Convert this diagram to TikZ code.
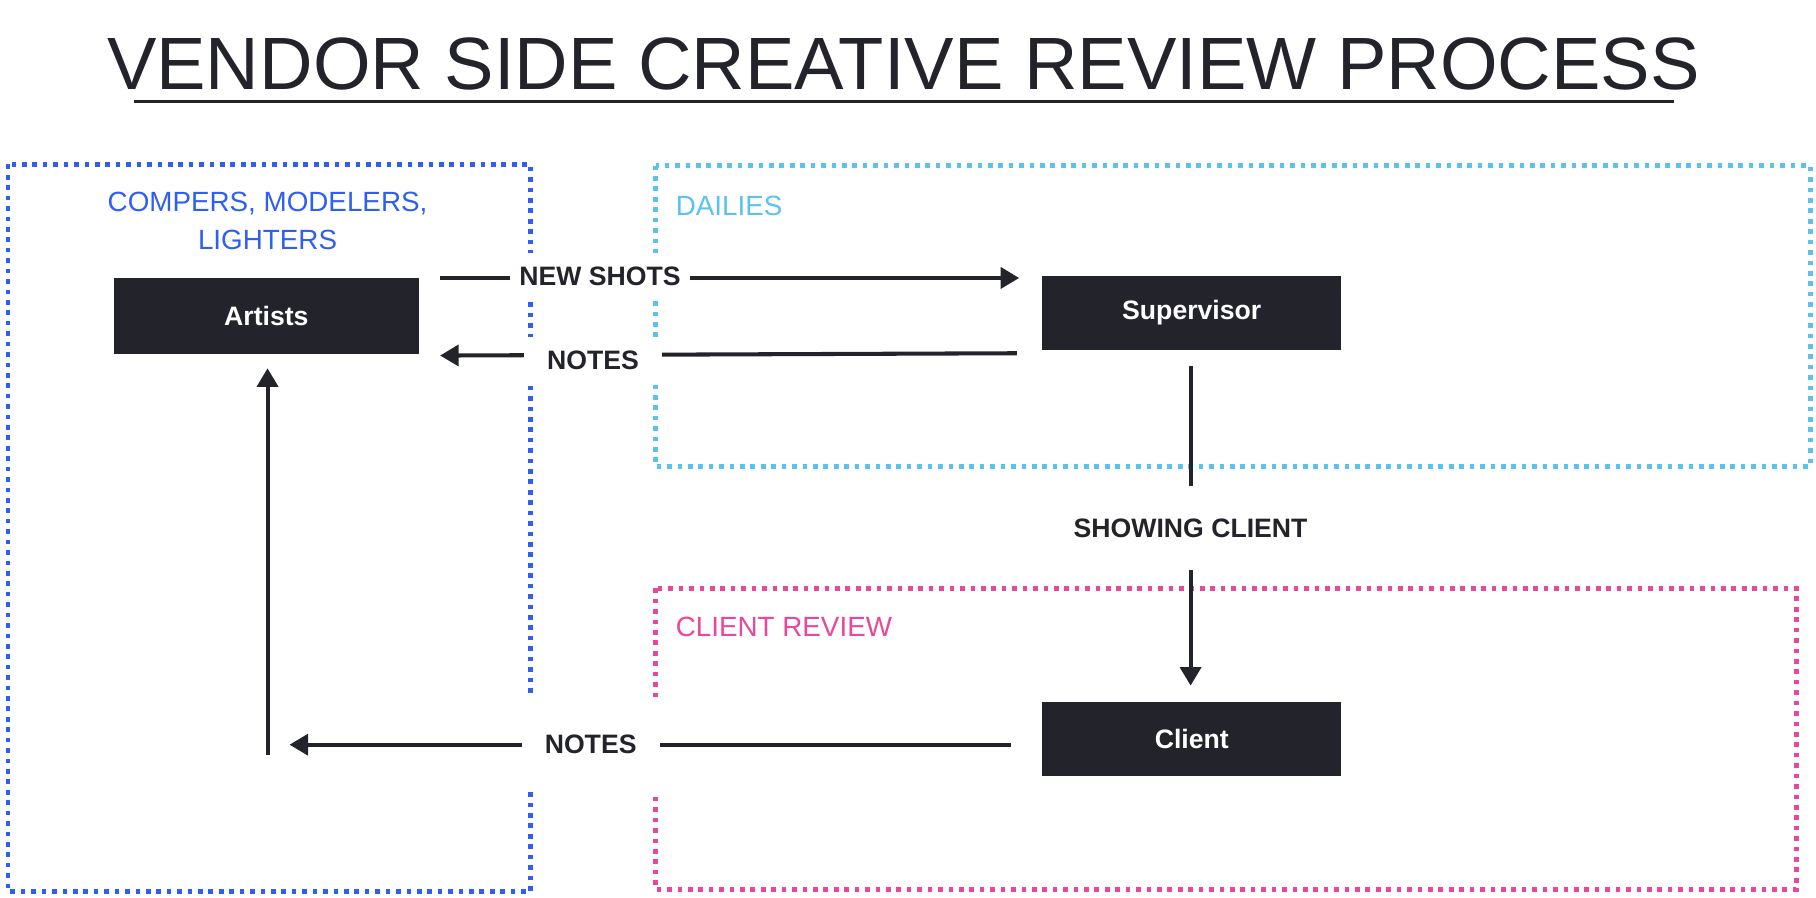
\documentclass[tikz,border=0pt]{standalone}
\usepackage{fontspec}
\setmainfont{Liberation Sans}
\usetikzlibrary{arrows.meta}
\definecolor{dk}{HTML}{23232B}
\definecolor{bl}{HTML}{2F5EF2}
\definecolor{cy}{HTML}{5BC2EE}
\definecolor{pk}{HTML}{E9489A}
\begin{document}
\begin{tikzpicture}[x=1pt,y=-1pt,
  grp/.style={line width=4pt,dash pattern=on 4pt off 5pt},
  blk/.style={fill=dk,text=white,font=\fontsize{23}{26}\selectfont\bfseries,inner sep=0},
  lab/.style={fill=white,text=dk,font=\fontsize{23}{26}\selectfont\bfseries,inner xsep=8pt,inner ysep=12pt},
  arr/.style={draw=dk,line width=3.5pt,-{Triangle[length=16pt,width=18pt]}},
  ln/.style={draw=dk,line width=3.5pt}]
\useasboundingbox (0,0) rectangle (1568,775);
\node[font=\fontsize{64}{70}\selectfont,text=dk] (title) at (780,55) {VENDOR SIDE CREATIVE REVIEW PROCESS};
\draw[dk,line width=2.5pt] (116,88) -- (1445,88);
\draw[grp,bl] (7,142) rectangle (458,770);
\draw[grp,cy] (566,143) rectangle (1563,403);
\draw[grp,pk] (566,508) rectangle (1551,768);
\node[text=bl,align=center,font=\fontsize{24}{33}\selectfont] (g1) at (231,191) {COMPERS, MODELERS,\\LIGHTERS};
\node[text=cy,anchor=west,font=\fontsize{24}{28}\selectfont] (g2) at (580,178) {DAILIES};
\node[text=pk,anchor=west,font=\fontsize{24}{28}\selectfont] (g3) at (580,541) {CLIENT REVIEW};
\node[blk,minimum width=264pt,minimum height=66pt] (art) at (230,273) {Artists};
\node[blk,minimum width=258pt,minimum height=64pt] (sup) at (1029,270) {Supervisor};
\node[blk,minimum width=258pt,minimum height=64pt] (cli) at (1029,638) {Client};
\coordinate (a1) at (380,240); \coordinate (a2) at (880,240);
\draw[arr] (a1) -- (a2);
\node[lab] (l1) at (518,239) {NEW SHOTS};
\coordinate (b1) at (878,305); \coordinate (b2) at (380,307);
\draw[arr] (b1) -- (b2);
\node[lab,inner xsep=20pt] (l2) at (512,311) {NOTES};
\coordinate (c1) at (1028,316); \coordinate (c2) at (1028,592);
\draw[arr] (c1) -- (c2);
\node[lab,inner ysep=28pt] (l3) at (1028,456) {SHOWING CLIENT};
\coordinate (d1) at (873,643); \coordinate (d2) at (250,643);
\draw[arr] (d1) -- (d2);
\node[lab,inner xsep=20pt,inner ysep=32pt] (l4) at (510,643) {NOTES};
\coordinate (e1) at (231,652); \coordinate (e2) at (231,318);
\draw[arr] (e1) -- (e2);
\end{tikzpicture}
\end{document}
